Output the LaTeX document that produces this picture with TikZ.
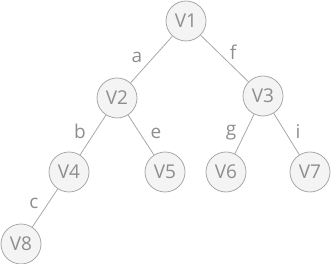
\documentclass[tikz,border=0pt]{standalone}
\usepackage{fontspec}
\setmainfont{Open Sans}
\definecolor{vfill}{HTML}{F4F4F4}
\definecolor{vline}{HTML}{A8A8A8}
\definecolor{vtext}{HTML}{8E8E8E}

\begin{document}
\begin{tikzpicture}[x=1pt, y=1pt, line width=0.8pt,
  vert/.style={circle, draw=vline, fill=vfill, minimum size=40pt, inner sep=0pt,
    text=vtext, font=\fontsize{19}{19}\selectfont},
  lbl/.style={text=vtext, inner sep=0pt, font=\fontsize{19}{19}\selectfont}]
  \useasboundingbox (0,0) rectangle (331,264);
  % Vertices of the tree, one row per level.
  \node[vert] (v1) at (186,243) {V1};
  \node[vert] (v2) at (117,166) {V2};
  \node[vert] (v3) at (263,168) {V3};
  \node[vert] (v4) at (69,92)   {V4};
  \node[vert] (v5) at (165,92)  {V5};
  \node[vert] (v6) at (226,92)  {V6};
  \node[vert] (v7) at (310,92)  {V7};
  \node[vert] (v8) at (21,20)   {V8};
  % Edges between parent and child.
  \foreach \p/\c in {v1/v2, v1/v3, v2/v4, v2/v5, v3/v6, v3/v7, v4/v8}
    \draw[vline] (\p) -- (\c);
  % Edge labels.
  \node[lbl] (la) at (137,207) {a};
  \node[lbl] (lf) at (233,212) {f};
  \node[lbl] (lb) at (80,133)  {b};
  \node[lbl] (le) at (156,131) {e};
  \node[lbl] (lg) at (231,131) {g};
  \node[lbl] (li) at (298,132) {i};
  \node[lbl] (lc) at (34,61)   {c};
\end{tikzpicture}
\end{document}
